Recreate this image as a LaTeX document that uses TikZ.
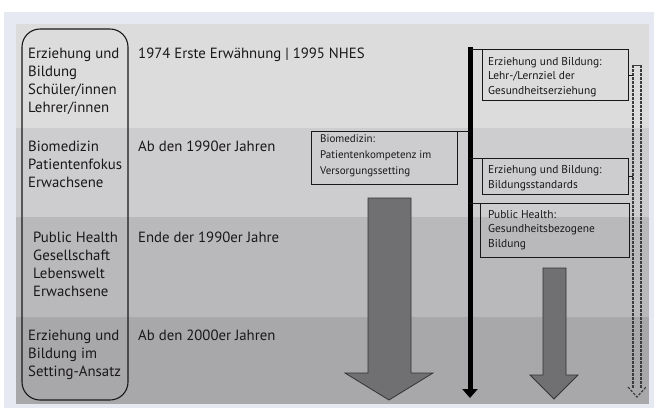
\documentclass[tikz,border=0pt]{standalone}
\usepackage{fontspec}
\setmainfont{PT Sans}
\usetikzlibrary{arrows.meta,calc}
\definecolor{lav}{HTML}{E6E8F2}
\definecolor{bandA}{HTML}{DCDCDD}
\definecolor{bandB}{HTML}{CDCDCF}
\definecolor{bandC}{HTML}{B9B9BB}
\definecolor{bandD}{HTML}{A8A8AA}
\definecolor{txt}{HTML}{1A1718}
\definecolor{arrfill}{HTML}{707072}
\definecolor{dashcol}{HTML}{3C3C3E}
\begin{document}
\begin{tikzpicture}[x=1pt,y=-1pt,
  lefttext/.style={anchor=north west,inner sep=0,align=left,font=\fontsize{14.8}{18.2}\selectfont,text=txt},
  coltext/.style={anchor=base west,inner sep=0,font=\fontsize{14.8}{18}\selectfont,text=txt},
  smallbox/.style={draw=txt,line width=0.9pt,anchor=north west,inner sep=0},
  boxtext/.style={anchor=north west,inner sep=0,align=left,font=\fontsize{11.4}{14.5}\selectfont,text=txt},
  bigarrow/.style={fill=arrfill,draw=black!80,line width=0.8pt,line join=miter},
  dashline/.style={draw=dashcol,line width=1.2pt,dash pattern=on 2.5pt off 1.5pt},
  stub/.style={draw=txt,line width=0.9pt}
]
\useasboundingbox (0,0) rectangle (654,408);
\fill[white] (0,0) rectangle (654,408);
\fill[lav] (4,12) rectangle (654,408);
\fill[bandA] (16,24) rectangle (649,128);
\fill[bandB] (16,128) rectangle (649,217);
\fill[bandC] (16,217) rectangle (649,317);
\fill[bandD] (16,317) rectangle (649,404);

% left rounded box
\draw[txt,line width=1.1pt,rounded corners=18pt] (22,29) rectangle (128,400);

% left column texts
\node[lefttext] (l1) at (28,47.5) {Erziehung und\\Bildung\\Schüler/innen\\Lehrer/innen};
\node[lefttext] (l2) at (28,140.5) {Biomedizin\\Patientenfokus\\Erwachsene};
\node[lefttext] (l3) at (33,231.5) {Public Health\\Gesellschaft\\Lebenswelt\\Erwachsene};
\node[lefttext] (l4) at (28,329.5) {Erziehung und\\Bildung im\\Setting-Ansatz};

% second column
\node[coltext] (c1) at (138,58) {1974 Erste Erwähnung | 1995 NHES};
\node[coltext] (c2) at (138,151) {Ab den 1990er Jahren};
\node[coltext] (c3) at (138,242) {Ende der 1990er Jahre};
\node[coltext] (c4) at (138,340) {Ab den 2000er Jahren};

% big arrows
\draw[bigarrow] (368,198) -- (411,198) -- (411,373) -- (433,373) -- (389,400) -- (345,373) -- (368,373) -- cycle;
\draw[bigarrow] (543,268) -- (566,268) -- (566,375) -- (578,375) -- (554,399) -- (530,375) -- (543,375) -- cycle;

% boxes
\node[smallbox,minimum width=146pt,minimum height=53pt] (bm) at (311,131) {};
\node[boxtext,font=\fontsize{11}{14.5}\selectfont] (bmt) at (320,134.5) {Biomedizin:\\[1.5pt]Patientenkompetenz im\\[1.5pt]Versorgungssetting};
\node[smallbox,minimum width=146pt,minimum height=51pt] (b1) at (482,49) {};
\node[boxtext] (b1t) at (488,57) {Erziehung und Bildung:\\Lehr-/Lernziel der\\Gesundheitserziehung};
\node[smallbox,minimum width=146pt,minimum height=36pt] (b2) at (482,158) {};
\node[boxtext] (b2t) at (488,165.5) {Erziehung und Bildung:\\Bildungsstandards};
\node[smallbox,minimum width=149pt,minimum height=54pt] (b3) at (480,203) {};
\node[boxtext] (b3t) at (488,210) {Public Health:\\Gesundheitsbezogene\\Bildung};

% spine
\coordinate (sTop) at (470,47);
\coordinate (sBot) at (470,398);
\draw[black,line width=5pt,-{Triangle[width=15pt,length=9pt]}] (sTop) -- (sBot);
\draw[stub] (bm.north east) -- (bm.north east -| sTop);
\draw[stub] (b1.north west) -- (b1.north west -| sTop);
\draw[stub] (b2.north west) -- (b2.north west -| sTop);
\draw[stub] (b3.north west) -- (b3.north west -| sTop);

% dashed double arrow
\coordinate (dTop) at (637,65);
\coordinate (dBot) at (637,397);
\draw[dashline] ($(dTop)+(-4,0)$) -- ($(dBot)+(-4,-9)$);
\draw[dashline] ($(dTop)+(4,0)$) -- ($(dBot)+(4,-9)$);
\draw[draw=dashcol,line width=1pt] ($(dTop)+(-5,0)$) -- ($(dTop)+(5,0)$);
\draw[dashline] ($(dBot)+(-9,-10)$) -- (dBot) -- ($(dBot)+(9,-10)$);
\draw[stub] (b1.east) -- (b1.east -| {$(dTop)+(-4,0)$});
\draw[stub] (b2.east) -- (b2.east -| {$(dTop)+(-4,0)$});
\end{tikzpicture}
\end{document}
